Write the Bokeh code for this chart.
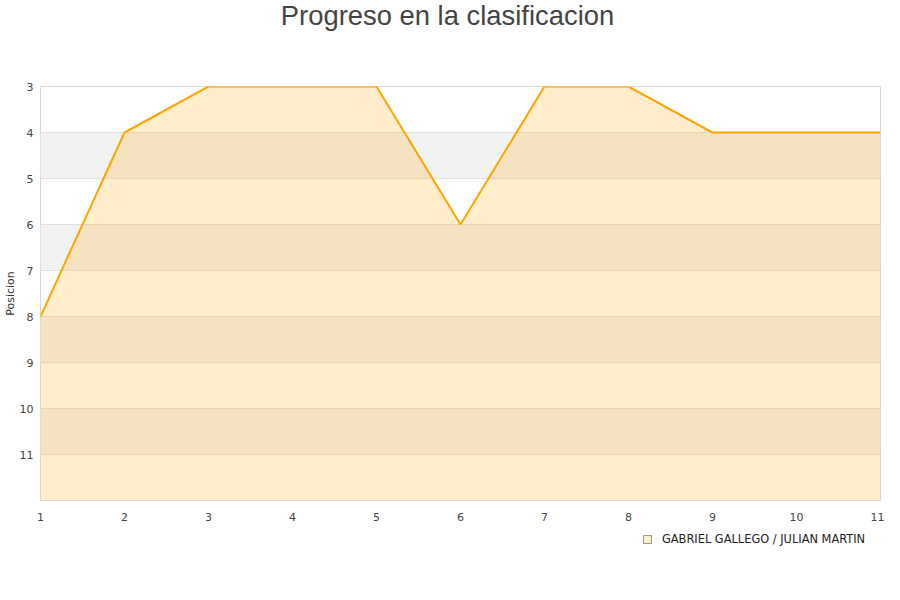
from bokeh.plotting import figure
from bokeh.layouts import column
from bokeh.models import Range1d, FixedTicker, Legend, LegendItem, Label, ColumnDataSource
from bokeh.embed import file_html
from bokeh.resources import INLINE

title_text = "Progreso en la clasificacion"
series_name = "GABRIEL GALLEGO / JULIAN MARTIN"
jornadas = [1, 2, 3, 4, 5, 6, 7, 8, 9, 10, 11]
posiciones = [8, 4, 3, 3, 3, 6, 3, 3, 4, 4, 4]
y_ticks = [3, 4, 5, 6, 7, 8, 9, 10, 11]
grid_ticks = [3, 4, 5, 6, 7, 8, 9, 10, 11, 12]
y_bottom = 12
y_top = 3

W = 884

# title strip
tf = figure(width=W, height=40, output_backend="svg", toolbar_location=None,
            x_range=Range1d(0, 1), y_range=Range1d(0, 1),
            min_border_left=0, min_border_right=0, min_border_top=0, min_border_bottom=0)
tf.axis.visible = False
tf.grid.visible = False
tf.outline_line_color = None
tf.title = None
tf.add_layout(Label(x=407, y=25, x_units="screen", y_units="screen", text=title_text,
                    text_align="center", text_baseline="middle", text_font="Liberation Sans",
                    text_font_size="27.4px", text_color="#444444"))

p = figure(width=W, height=483, output_backend="svg", toolbar_location=None,
           x_range=Range1d(1, 11), y_range=Range1d(y_bottom, y_top),
           min_border_left=40, min_border_right=4, min_border_top=46, min_border_bottom=20)
p.title = None
p.outline_line_color = "#d8d8d8"
p.background_fill_color = "white"
p.border_fill_color = "white"

p.xgrid.visible = False
p.ygrid.ticker = FixedTicker(ticks=grid_ticks)
p.ygrid.grid_line_color = "#e0e0e0"
p.ygrid.band_fill_color = "#f2f2f2"
p.ygrid.band_fill_alpha = 1.0

src = ColumnDataSource(dict(x=jornadas, y=posiciones, b=[y_bottom] * len(jornadas)))
area = p.varea(x="x", y1="y", y2="b", source=src, fill_color="#ffa500", fill_alpha=0.2)
p.line(x="x", y="y", source=src, line_color="#ffa500", line_width=2)

for ax in (p.xaxis[0], p.yaxis[0]):
    ax.major_tick_line_color = None
    ax.minor_tick_line_color = None
    ax.axis_line_color = None
    ax.major_label_text_font = "DejaVu Sans"
    ax.major_label_text_font_size = "11px"
    ax.major_label_text_color = "#444444"

p.xaxis.ticker = FixedTicker(ticks=jornadas)
p.xaxis.major_label_standoff = 6
p.yaxis.ticker = FixedTicker(ticks=y_ticks)
p.yaxis.major_label_standoff = 1
p.yaxis.axis_label = "Posicion"
p.yaxis.axis_label_text_font = "DejaVu Sans"
p.yaxis.axis_label_text_font_size = "11px"
p.yaxis.axis_label_text_font_style = "normal"
p.yaxis.axis_label_text_color = "#333333"
p.yaxis.axis_label_standoff = 0

# legend strip below the chart
q = figure(width=W, height=61, output_backend="svg", toolbar_location=None,
           x_range=Range1d(1, 11), y_range=Range1d(100, 101),
           min_border_left=0, min_border_right=0, min_border_top=0, min_border_bottom=0)
q.axis.visible = False
q.grid.visible = False
q.outline_line_color = None
q.title = None
q_swatch = q.rect(x="x", y="y", width=0.1, height=0.1, source=src,
                  fill_color="#ffa500", fill_alpha=0.2, line_color="#999999", line_width=1)
legend = Legend(items=[LegendItem(label=series_name, renderers=[q_swatch])],
                location=(602, 38), orientation="horizontal",
                label_text_font="DejaVu Sans", label_text_font_size="11.4px", label_text_color="#222222",
                glyph_width=10, glyph_height=10, label_standoff=10, padding=0, margin=0, spacing=0,
                border_line_color=None, background_fill_alpha=0)
q.add_layout(legend, "center")

layout = column(tf, p, q, spacing=0)
open("out.html", "w").write(file_html(layout, INLINE))
